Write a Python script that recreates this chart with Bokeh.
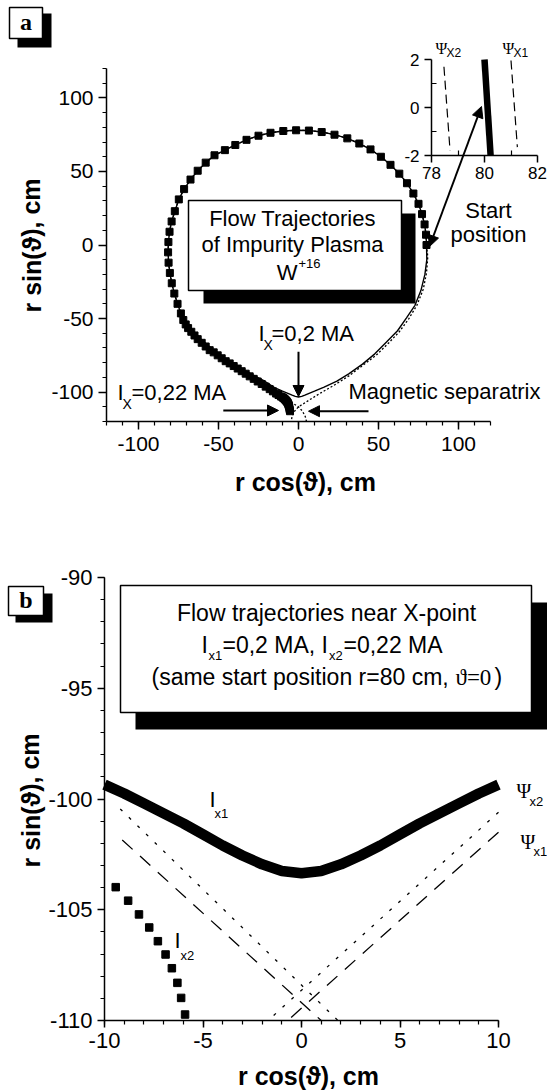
from bokeh.plotting import figure
from bokeh.models import (Range1d, FixedTicker, BoxAnnotation, Label, Arrow, NormalHead, LinearAxis)
from bokeh.embed import file_html
from bokeh.resources import INLINE

# ---------------- data ----------------
# (a) common upper part of both trajectories, counter-clockwise from the start point (80, 0)
orbit_x = [80.0, 79.7, 78.8, 77.2, 75.0, 71.8, 67.8, 63.0, 57.5, 51.5, 45.0, 38.0, 30.5, 22.5, 14.5,
           6.5, -1.5, -9.5, -17.5, -25.0, -32.5, -39.5, -46.0, -52.5, -58.0, -63.0, -67.5, -71.5,
           -74.8, -77.3, -79.3, -80.6, -81.3, -81.5, -81.2, -80.4, -79.2, -77.6, -75.6, -73.5]
orbit_y = [0.0, 7.0, 14.0, 21.0, 28.0, 35.0, 42.0, 48.5, 54.5, 60.0, 65.0, 69.0, 72.5, 75.0, 76.8,
           77.8, 78.0, 77.5, 76.3, 74.3, 71.5, 68.0, 64.5, 61.0, 56.0, 50.5, 44.5, 38.0,
           31.0, 23.0, 16.0, 9.0, 2.0, -5.0, -12.0, -19.0, -26.0, -33.0, -40.0, -46.5]
# (a) I_X = 0.22 MA: densely sampled part running past the X-point
tail2_x = [-72.0, -70.5, -69.0, -67.0, -65.0, -63.0, -60.5, -58.0, -55.5, -53.0, -50.5, -48.0, -45.5,
           -43.0, -40.5, -38.0, -35.5, -33.0, -30.5, -28.0, -25.5, -23.0, -20.5, -18.0, -16.0, -14.0,
           -12.5, -11.0, -10.0, -9.4, -8.8, -8.25, -7.7, -7.3, -6.9, -6.6, -6.3, -6.1, -5.9, -5.7, -5.5, -5.3]
tail2_y = [-51.0, -54.0, -56.5, -59.0, -61.5, -64.0, -66.5, -69.0, -71.5, -73.0, -75.0, -77.0, -79.0,
           -80.5, -82.3, -84.0, -85.8, -87.5, -89.3, -91.0, -92.8, -94.5, -96.3, -98.0, -99.5, -101.0,
           -102.0, -103.0, -103.6, -104.0, -104.6, -105.2, -105.8, -106.4, -107.0, -107.6, -108.3, -109.0,
           -109.7, -110.8, -112.0, -113.0]
# (a) I_X = 0.2 MA: lower part closing the orbit through the bottom back to the start
low1_x = [-71.0, -66.5, -60.5, -53.5, -46.0, -38.0, -30.0, -22.0, -15.0, -10.0, -7.0, -4.0, -2.0, 0.0,
          2.0, 4.0, 7.0, 10.0, 16.0, 24.0, 31.4, 40.0, 47.7, 55.0, 61.9, 67.5, 72.8, 76.5, 79.0, 80.2, 80.0]
low1_y = [-51.0, -57.5, -64.5, -71.0, -77.0, -82.5, -87.5, -92.0, -97.0, -99.4, -100.65, -102.1, -102.95,
          -103.35, -102.95, -102.1, -100.65, -99.4, -96.6, -92.5, -87.6, -81.0, -74.0, -66.0, -58.3,
          -49.5, -41.0, -31.0, -20.0, -10.0, 0.0]
# (a) magnetic separatrix: lower-right leg, up along the left side ...
sep_in_x = [5.0, 4.2, 2.5, 0.0, -3.0, -8.0, -14.0, -20.0, -27.0, -35.0, -43.0, -51.0, -58.0, -64.0, -69.5]
sep_in_y = [-120.0, -116.5, -113.0, -110.0, -108.0, -105.0, -101.5, -97.5, -93.0, -87.5, -81.5, -75.0,
            -68.5, -61.0, -52.5]
# ... and from the start point down the right side to the lower-left leg
sep_out_x = [80.8, 80.0, 78.0, 74.0, 69.0, 63.0, 56.0, 48.5, 40.0, 31.5, 22.0, 14.0, 8.0, 3.0, 0.0,
             -2.5, -4.0, -4.6]
sep_out_y = [-8.0, -19.0, -30.0, -41.0, -50.0, -59.0, -67.0, -75.0, -82.0, -89.0, -95.5, -100.5, -104.5,
             -108.0, -110.0, -113.0, -116.5, -120.0]

# inset of (a): surroundings of the start point
start_x = [80.0, 80.23]
start_y = [2.0, -2.0]
psi_x2_inset_x = [78.47, 78.70]
psi_x2_inset_y = [1.70, -1.80]
psi_x1_inset_x = [81.00, 81.24]
psi_x1_inset_y = [1.96, -1.65]

# (b) trajectories near the X-point
b_traj1_x = [-10, -9, -8, -7, -6, -5, -4, -3, -2, -1, 0, 1, 2, 3, 4, 5, 6, 7, 8, 9, 10]
b_traj1_y = [-99.35, -99.75, -100.2, -100.65, -101.1, -101.6, -102.1, -102.55, -102.95, -103.25,
             -103.35, -103.25, -102.95, -102.55, -102.1, -101.6, -101.1, -100.65, -100.2, -99.75, -99.35]
b_traj2_x = [-9.43, -8.80, -8.25, -7.73, -7.29, -6.90, -6.58, -6.30, -6.11, -5.91]
b_traj2_y = [-103.98, -104.59, -105.21, -105.80, -106.42, -107.02, -107.64, -108.30, -108.98, -109.73]
# (b) separatrices, each as two crossing branches
psi_x2_a_x = [-9.2, 1.85]
psi_x2_a_y = [-100.45, -110.0]
psi_x2_b_x = [10.0, -1.7]
psi_x2_b_y = [-100.6, -110.0]
psi_x1_a_x = [-9.1, 1.0]
psi_x1_a_y = [-101.85, -110.0]
psi_x1_b_x = [10.0, -0.7]
psi_x1_b_y = [-101.5, -110.0]

# ticks
a_ticks = [-100, -50, 0, 50, 100]
a_minor = list(range(-120, 121, 10))
inset_xticks = [78, 80, 82]
inset_xminor = [79, 81]
inset_yticks = [-2, 0, 2]
inset_yminor = [-1, 1]
b_xticks = [-10, -5, 0, 5, 10]
b_xminor = list(range(-10, 11))
b_yticks = [-110, -105, -100, -95, -90]
b_yminor = list(range(-110, -89))

SANS = "Liberation Sans"
SERIF = "Liberation Serif"
W, H = 547, 1091

# one page-sized canvas; the default ranges are page pixels (y downwards),
# each panel gets its own pair of extra ranges
p = figure(width=W, height=H, x_range=Range1d(0, W), y_range=Range1d(H, 0), min_border=0,
           x_axis_type=None, y_axis_type=None, output_backend="svg", toolbar_location=None)
p.outline_line_color = None
p.background_fill_color = "white"
p.border_fill_color = "white"
p.grid.visible = False


def span(lo, hi, lo_px, hi_px, total):
    u = (hi - lo) / (hi_px - lo_px)
    return Range1d(lo - lo_px * u, hi + (total - hi_px) * u)


def panel(name, xlim, ylim, left, right, top, bottom):
    p.extra_x_ranges[name + "x"] = span(xlim[0], xlim[1], left, right, W)
    p.extra_y_ranges[name + "y"] = span(ylim[0], ylim[1], H - bottom, H - top, H)


def axes(name, xlim, ylim, xt, xm, yt, ym, size, tick_out, minor_out, minor_in, x_standoff, y_standoff):
    common = dict(x_range_name=name + "x", y_range_name=name + "y",
                  axis_line_color="black", axis_line_width=1.5,
                  major_tick_line_color="black", major_tick_line_width=1.5,
                  minor_tick_line_color="black", minor_tick_line_width=1.2,
                  major_tick_out=tick_out, major_tick_in=0,
                  minor_tick_out=minor_out, minor_tick_in=minor_in,
                  major_label_text_font=SANS, major_label_text_font_size=f"{size}px",
                  major_label_text_color="black")
    xa = LinearAxis(fixed_location=ylim[0], bounds=xlim,
                    ticker=FixedTicker(ticks=xt, minor_ticks=xm),
                    major_label_overrides={v: str(v) for v in xt},
                    major_label_standoff=x_standoff, **common)
    ya = LinearAxis(fixed_location=xlim[0], bounds=ylim,
                    ticker=FixedTicker(ticks=yt, minor_ticks=ym),
                    major_label_overrides={v: str(v) for v in yt},
                    major_label_standoff=y_standoff, **common)
    p.add_layout(xa, "below")
    p.add_layout(ya, "left")


def put(x, y, text, size, font=SANS, style="normal", align="left", angle=0.0, baseline="alphabetic"):
    # y is the text baseline on the page; the label box sits a little low for
    # alphabetic anchoring, so lift it by about a third of the font size
    if baseline == "alphabetic":
        y = y - 0.35 * size
    p.add_layout(Label(x=x, y=y, text=text, text_font=font, text_font_size=f"{size}px",
                       text_font_style=style, text_align=align, text_baseline=baseline,
                       angle=angle, text_color="black"))


def box(l, r, t, b, fill, line=None):
    p.add_layout(BoxAnnotation(left=l, right=r, top=t, bottom=b, fill_color=fill, fill_alpha=1.0,
                               line_color=line if line else "white", line_width=1.5,
                               line_alpha=1.0 if line else 0.0))


def arrow(x0, y0, x1, y1, both=False, rng=None):
    head = dict(size=11, fill_color="black", line_color="black", line_width=1)
    extra = dict(x_range_name=rng + "x", y_range_name=rng + "y") if rng else {}
    p.add_layout(Arrow(x_start=x0, y_start=y0, x_end=x1, y_end=y1, line_width=2, line_color="black",
                       end=NormalHead(**head), start=NormalHead(**head) if both else None, **extra))


# ---------------- panel (a) ----------------
A_LIM = (-120, 120)
panel("a", A_LIM, A_LIM, 106, 490, 68, 421)
axes("a", A_LIM, A_LIM, a_ticks, a_minor, a_ticks, a_minor, 21, 8, 4, 0, 7, 5)
ra = dict(x_range_name="ax", y_range_name="ay")

p.line(sep_in_x + orbit_x[::-1] + sep_out_x, sep_in_y + orbit_y[::-1] + sep_out_y,
       line_color="black", line_width=1.3, line_dash="2 2", **ra)
p.line(orbit_x + low1_x, orbit_y + low1_y, line_color="black", line_width=1.4, **ra)
p.scatter(orbit_x + tail2_x, orbit_y + tail2_y, marker="square", size=7, color="black", **ra)

put(305, 490, "r cos(\u03d1), cm", 25, style="bold", align="center")
put(31, 245, "r sin(\u03d1), cm", 25, style="bold", align="center", angle=1.5708, baseline="middle")

box(203, 415, 213, 303, "black")
box(188, 401, 200, 290, "white", "black")
put(292, 226, "Flow Trajectories", 22, align="center")
put(292, 252, "of Impurity Plasma", 22, align="center")
put(297, 280, "W", 22, align="right")
put(298, 268, "+16", 13)

put(258, 341, "I", 22)
put(263, 349, "X", 14)
put(271, 341, "=0,2 MA", 22)
arrow(0, -72.5, 0, -103.0, rng="a")

put(117, 400, "I", 22)
put(122, 408, "X", 14)
put(131, 400, "=0,22 MA", 22)
arrow(-47.0, -112.5, -12.5, -112.5, rng="a")

put(348, 399, "Magnetic separatrix", 22)
arrow(43.75, -113.0, 6.25, -113.0, rng="a")

put(488, 218, "Start", 22, align="center")
put(488, 242, "position", 22, align="center")
arrow(429, 246, 481, 106, both=True)

box(17, 51, 13, 47, "black")
box(9, 42, 7, 38, "white", "black")
put(25.5, 30, "a", 24, font=SERIF, style="bold", align="center")

# ---------------- inset of (a) ----------------
panel("i", (78, 82), (-2, 2), 431, 537, 59, 155)
axes("i", (78, 82), (-2, 2), inset_xticks, inset_xminor, inset_yticks, inset_yminor, 17, 7, 0, 5, 4, 5)
ri = dict(x_range_name="ix", y_range_name="iy")
p.line(start_x, start_y, line_color="black", line_width=6.5, **ri)
p.line(psi_x2_inset_x, psi_x2_inset_y, line_color="black", line_width=1.2, line_dash="9 5", **ri)
p.line(psi_x1_inset_x, psi_x1_inset_y, line_color="black", line_width=1.2, line_dash="9 5", **ri)
put(435, 54, "\u03a8", 16, font=SERIF)
put(446, 57, "X2", 12)
put(502, 54, "\u03a8", 16, font=SERIF)
put(513, 57, "X1", 12)

# ---------------- panel (b) ----------------
B_XLIM = (-10, 10)
B_YLIM = (-110, -90)
panel("b", B_XLIM, B_YLIM, 104, 498, 577, 1020)
axes("b", B_XLIM, B_YLIM, b_xticks, b_xminor, b_yticks, b_yminor, 22, 7, 4, 0, 5, 5)
rb = dict(x_range_name="bx", y_range_name="by")

p.line(psi_x2_a_x, psi_x2_a_y, line_color="black", line_width=1.3, line_dash="3 9", **rb)
p.line(psi_x2_b_x, psi_x2_b_y, line_color="black", line_width=1.3, line_dash="3 9", **rb)
p.line(psi_x1_a_x, psi_x1_a_y, line_color="black", line_width=1.3, line_dash="14 10", **rb)
p.line(psi_x1_b_x, psi_x1_b_y, line_color="black", line_width=1.3, line_dash="14 10", **rb)
p.line(b_traj1_x, b_traj1_y, line_color="black", line_width=10.5, **rb)
p.scatter(b_traj2_x, b_traj2_y, marker="square", size=7.5, color="black", **rb)

put(308, 1084, "r cos(\u03d1), cm", 25, style="bold", align="center")
put(30, 800, "r sin(\u03d1), cm", 25, style="bold", align="center", angle=1.5708, baseline="middle")

box(135, 547, 602, 729, "black")
box(120, 531, 585, 712, "white", "black")
put(326, 621, "Flow trajectories near X-point", 23, align="center")
X0 = 201
put(X0, 653, "I", 23)
put(X0 + 7, 660, "x1", 13)
put(X0 + 21, 653, "=0,2 MA, I", 23)
put(X0 + 127.5, 660, "x2", 13)
put(X0 + 142, 653, "=0,22 MA", 23)
put(151, 685, "(same start position r=80 cm, ", 23)
put(455, 685, "\u03d1=0", 23, font=SERIF)
put(494, 685, ")", 23)

put(209, 807, "I", 22)
put(214, 818, "x1", 13)
put(174, 948, "I", 22)
put(180, 960, "x2", 13)
put(516, 797, "\u03a8", 20, font=SERIF)
put(529, 806, "x2", 13)
put(520, 848, "\u03a8", 20, font=SERIF)
put(533, 856, "x1", 13)

box(15, 52, 593, 622, "black")
box(8, 43, 586, 615, "white", "black")
put(25.5, 608, "b", 24, font=SERIF, style="bold", align="center")

open("out.html", "w").write(file_html(p, INLINE))
